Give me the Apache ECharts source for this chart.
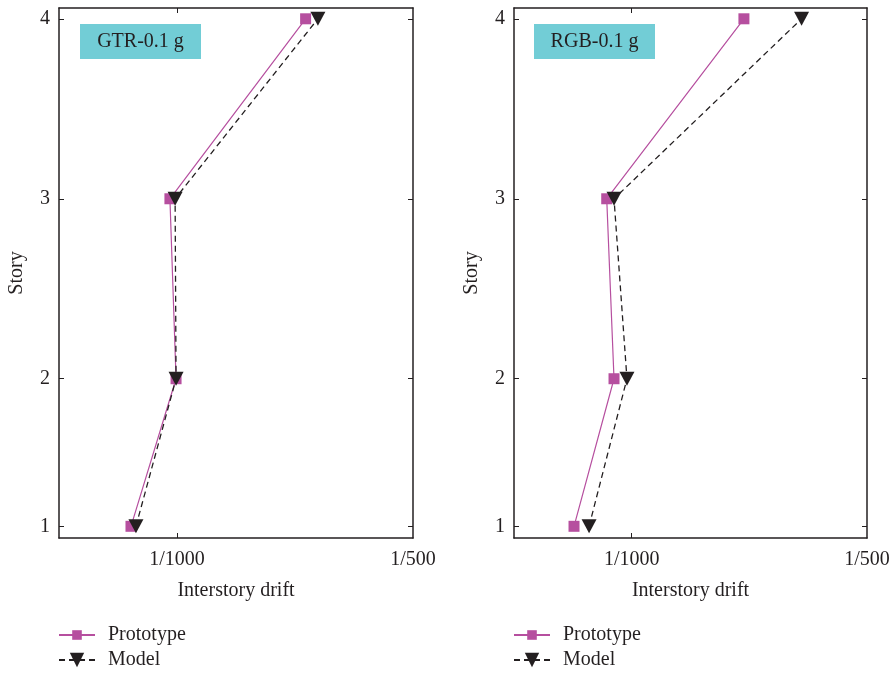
<!DOCTYPE html>
<html>
<head>
<meta charset="utf-8">
<script src="https://cdn.jsdelivr.net/npm/echarts@6/dist/echarts.min.js"></script>
<style>
html,body{margin:0;padding:0;background:#fff;}
#chart{width:894px;height:673px;}
</style>
</head>
<body>
<div id="chart"></div>
<script>
// ---- data ----
var storyLabels = ['1', '2', '3', '4'];
var storyAxisPos = [1.18, 2, 3, 4];
var driftTicks = [0.001, 0.002];
var driftTickLabels = ['1/1000', '1/500'];
var panelTitles = ['GTR-0.1 g', 'RGB-0.1 g'];
var seriesNames = ['Prototype', 'Model'];
var gtrPrototype = [0.000805, 0.000996, 0.000970, 0.001545];
var gtrModel     = [0.000826, 0.000996, 0.000992, 0.001597];
var rgbPrototype = [0.000755, 0.000925, 0.000894, 0.001477];
var rgbModel     = [0.000819, 0.000980, 0.000925, 0.001722];

var FONT = '"Liberation Serif", "DejaVu Serif", serif';
var FS = 20;
var TXT = '#231f20';
var MAG = '#b64f9f';

function pts(xs) { return xs.map(function (v, i) { return [v, storyAxisPos[i]]; }); }
function driftLabel(v) {
  for (var i = 0; i < driftTicks.length; i++) if (Math.abs(v - driftTicks[i]) < 1e-9) return driftTickLabels[i];
  return '';
}
function storyLabel(v) {
  for (var i = 0; i < storyAxisPos.length; i++) if (Math.abs(v - storyAxisPos[i]) < 1e-9) return storyLabels[i];
  return '';
}

var grids = [
  { left: 59, top: 8, width: 354, height: 530 },
  { left: 514, top: 8, width: 353, height: 530 }
];

var xAxes = [], yAxes = [];
grids.forEach(function (g, gi) {
  xAxes.push({
    type: 'value', gridIndex: gi, position: 'bottom', min: 0.0005, max: 0.002,
    name: 'Interstory drift', nameLocation: 'middle', nameGap: 43,
    nameTextStyle: { fontFamily: FONT, fontSize: FS, color: TXT },
    axisLine: { show: true, onZero: false, lineStyle: { color: TXT, width: 1.5 } },
    axisTick: { show: true, inside: true, length: 5, customValues: [driftTicks[0]], lineStyle: { color: TXT } },
    axisLabel: { customValues: driftTicks, formatter: driftLabel, fontFamily: FONT, fontSize: FS, color: TXT, margin: 12 },
    splitLine: { show: false }
  });
  xAxes.push({
    type: 'value', gridIndex: gi, position: 'top', min: 0.0005, max: 0.002,
    axisLine: { show: true, onZero: false, lineStyle: { color: TXT, width: 1.5 } },
    axisTick: { show: true, inside: true, length: 5, customValues: [driftTicks[0]], lineStyle: { color: TXT } },
    axisLabel: { show: false }, splitLine: { show: false }
  });
  yAxes.push({
    type: 'value', gridIndex: gi, position: 'left', min: 1.115, max: 4.06,
    name: 'Story', nameLocation: 'middle', nameGap: 32,
    nameTextStyle: { fontFamily: FONT, fontSize: FS, color: TXT },
    axisLine: { show: true, onZero: false, lineStyle: { color: TXT, width: 1.5 } },
    axisTick: { show: true, inside: true, length: 5, customValues: storyAxisPos, lineStyle: { color: TXT } },
    axisLabel: { customValues: storyAxisPos, formatter: storyLabel, fontFamily: FONT, fontSize: FS, color: TXT, margin: 9 },
    splitLine: { show: false }
  });
  yAxes.push({
    type: 'value', gridIndex: gi, position: 'right', min: 1.115, max: 4.06,
    axisLine: { show: true, onZero: false, lineStyle: { color: TXT, width: 1.5 } },
    axisTick: { show: true, inside: true, length: 5, customValues: storyAxisPos, lineStyle: { color: TXT } },
    axisLabel: { show: false }, splitLine: { show: false }
  });
});

function protoSeries(gi, data) {
  return {
    name: seriesNames[0], type: 'line', xAxisIndex: gi * 2, yAxisIndex: gi * 2,
    data: pts(data), symbol: 'rect', symbolSize: 11, z: 2,
    lineStyle: { color: MAG, width: 1.2 }, itemStyle: { color: MAG }, animation: false
  };
}
function modelSeries(gi, data) {
  return {
    name: seriesNames[1], type: 'line', xAxisIndex: gi * 2, yAxisIndex: gi * 2,
    data: pts(data), symbol: 'triangle', symbolRotate: 180, symbolSize: [15, 14], z: 3,
    lineStyle: { color: '#231f20', width: 1.3, type: [6, 4] }, itemStyle: { color: '#231f20' }, animation: false
  };
}

var legends = [];
[58, 513].forEach(function (lx) {
  legends.push({
    orient: 'vertical', left: lx, top: 625, itemWidth: 36, itemHeight: 12,
    data: [seriesNames[0]], selectedMode: false, padding: 0,
    textStyle: { fontFamily: FONT, fontSize: FS, color: TXT, padding: [0, 0, 0, 8] }
  });
  legends.push({
    orient: 'vertical', left: lx, top: 650, itemWidth: 36, itemHeight: 18,
    data: [seriesNames[1]], selectedMode: false, padding: 0,
    textStyle: { fontFamily: FONT, fontSize: FS, color: TXT, padding: [0, 0, 0, 8] }
  });
});

var graphics = [];
[[80, 24], [534, 24]].forEach(function (p, i) {
  graphics.push({
    type: 'group', left: p[0], top: p[1],
    children: [
      { type: 'rect', shape: { x: 0, y: 0, width: 121, height: 35 }, style: { fill: '#72cdd6' } },
      { type: 'text', x: 60.5, y: 18, style: { text: panelTitles[i], fontFamily: FONT, fontSize: FS, fill: TXT, align: 'center', verticalAlign: 'middle' } }
    ]
  });
});

var chart = echarts.init(document.getElementById('chart'), null, { renderer: 'canvas' });
chart.setOption({
  backgroundColor: '#ffffff',
  animation: false,
  grid: grids,
  xAxis: xAxes,
  yAxis: yAxes,
  legend: legends,
  graphic: graphics,
  series: [
    protoSeries(0, gtrPrototype), modelSeries(0, gtrModel),
    protoSeries(1, rgbPrototype), modelSeries(1, rgbModel)
  ]
});
</script>
</body>
</html>
